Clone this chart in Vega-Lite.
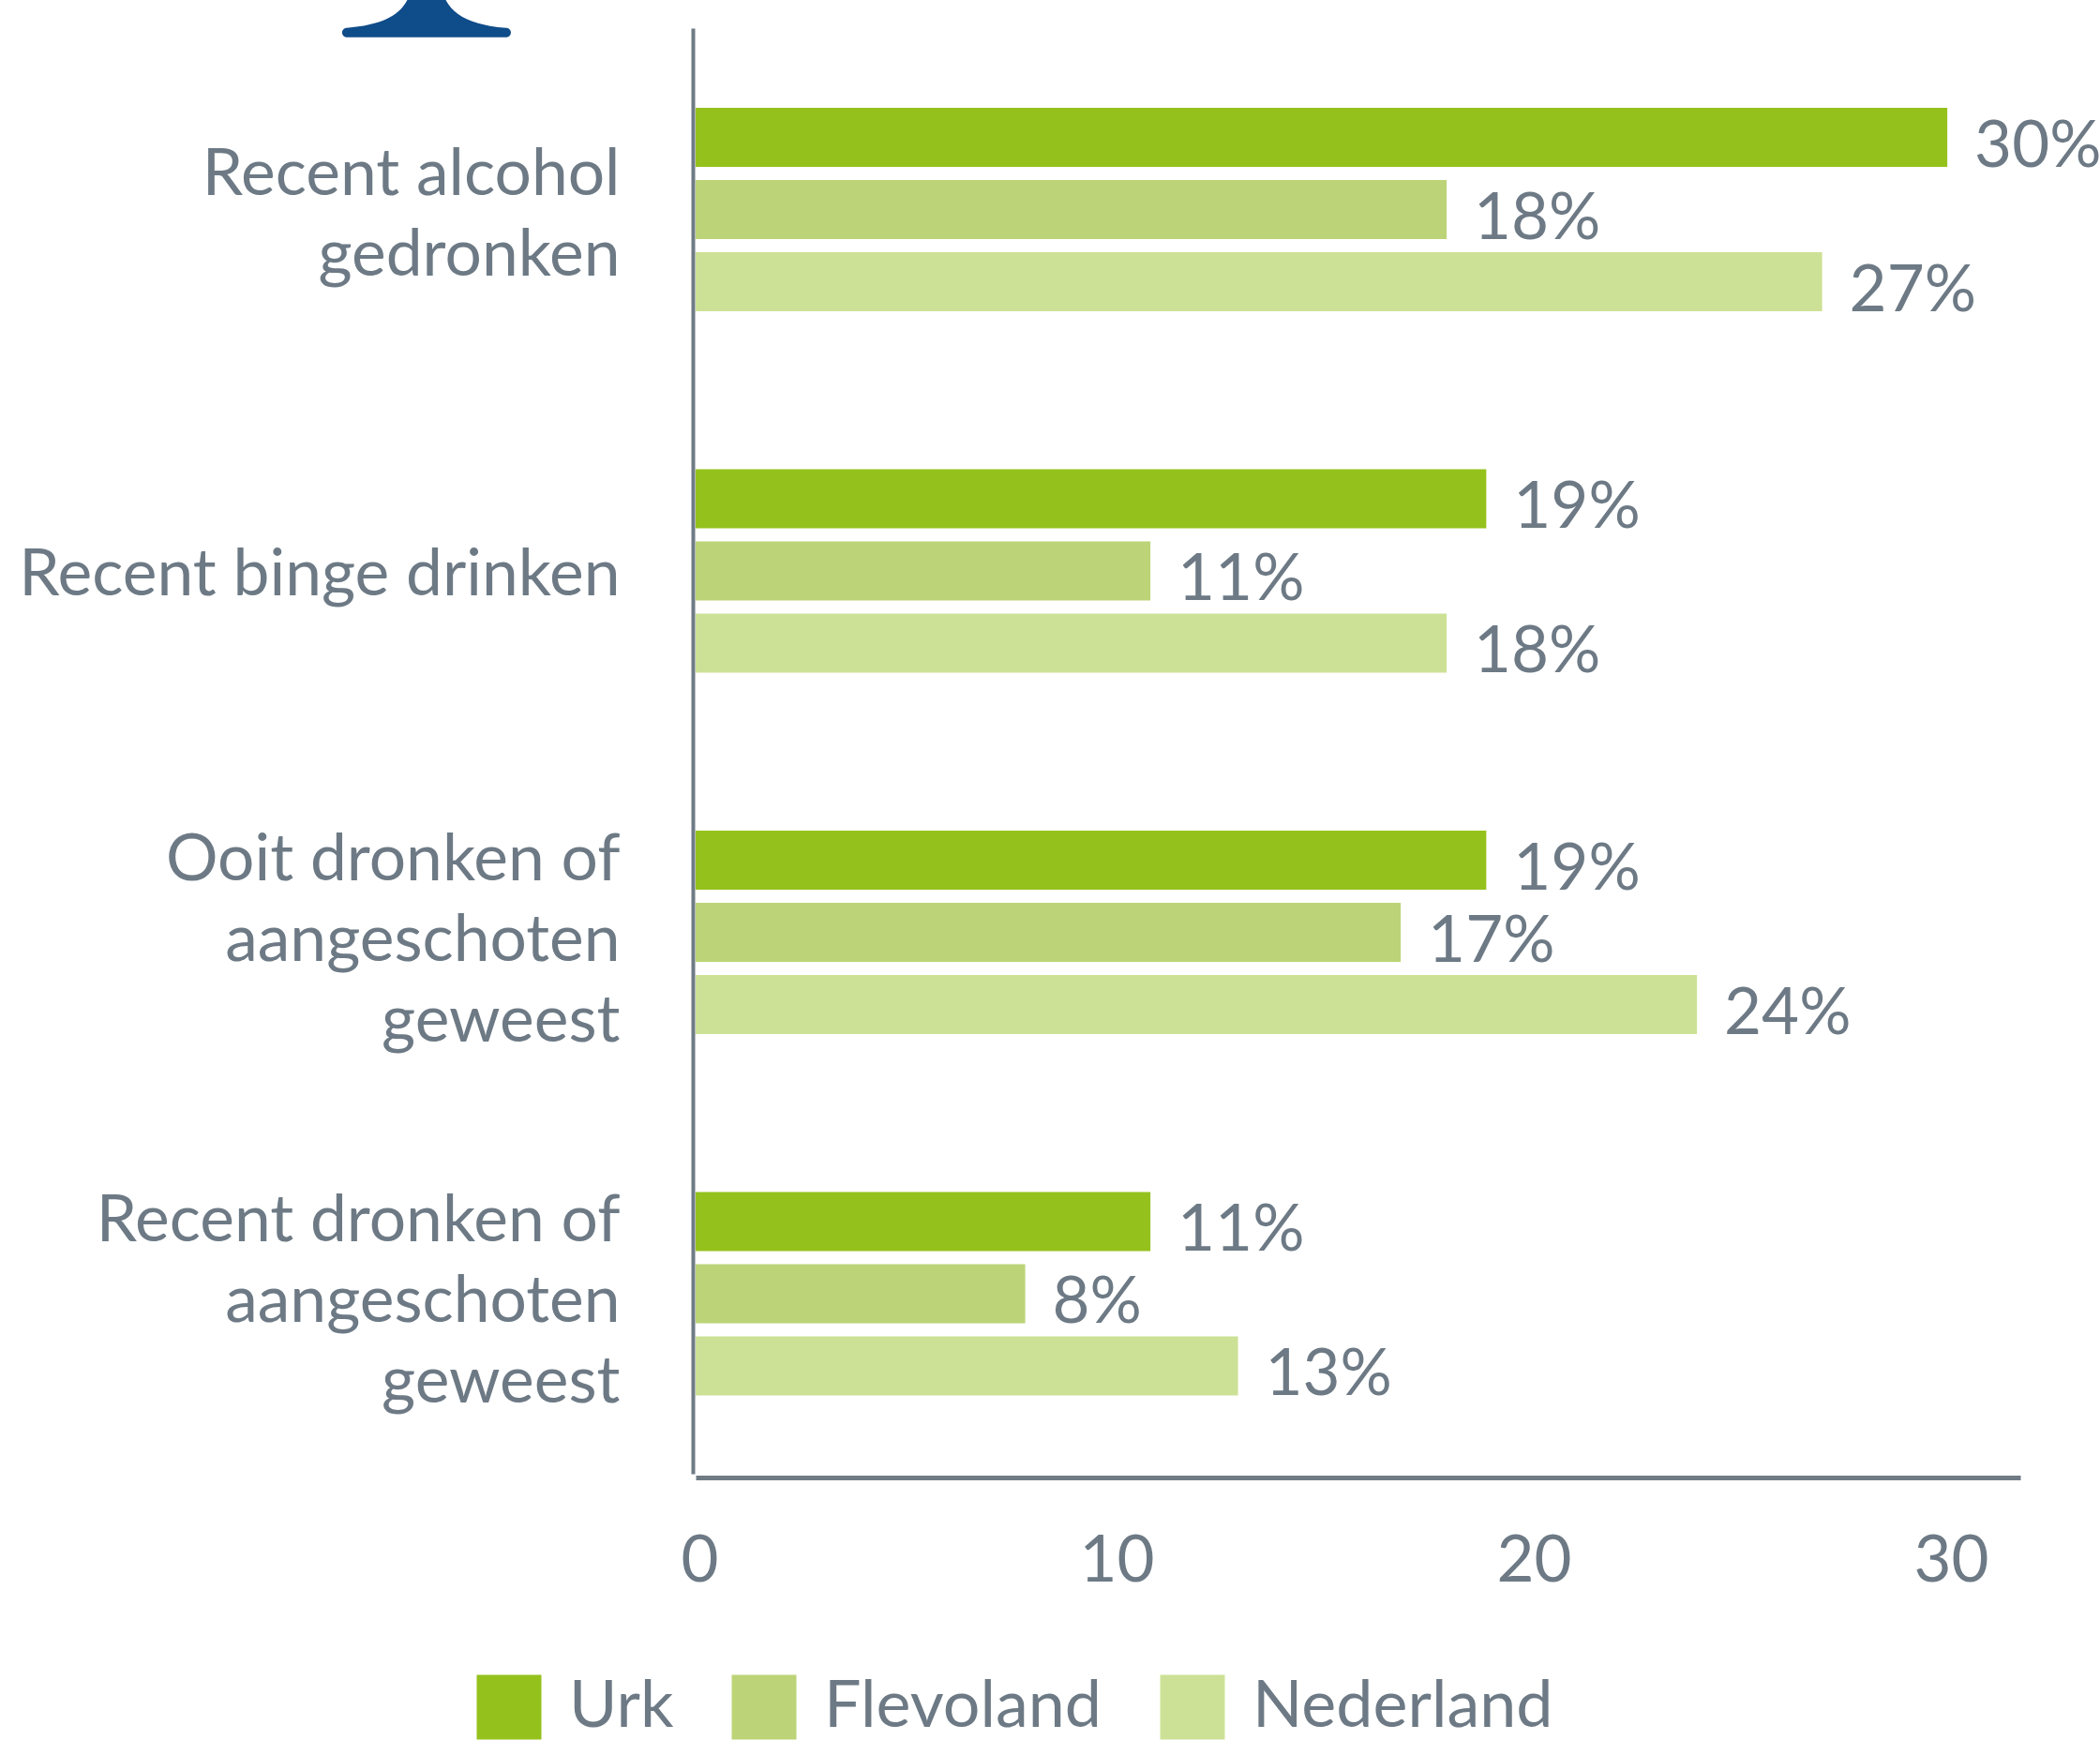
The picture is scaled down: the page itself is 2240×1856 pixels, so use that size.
{
"$schema":"https://vega.github.io/schema/vega-lite/v6.json",
"autosize":{"type":"none"},
"padding":{"left":742,"top":30,"right":85,"bottom":284},
"width":1413,"height":1542,
"background":"white",
"config":{"view":{"stroke":null},"font":"Lato"},
"layer":[
{"data":{"name":"rijen","values":[
{"categorie":"Recent alcohol gedronken","regio":"Urk","waarde":30,"label":"30%"},
{"categorie":"Recent alcohol gedronken","regio":"Flevoland","waarde":18,"label":"18%"},
{"categorie":"Recent alcohol gedronken","regio":"Nederland","waarde":27,"label":"27%"},
{"categorie":"Recent binge drinken","regio":"Urk","waarde":18.95,"label":"19%"},
{"categorie":"Recent binge drinken","regio":"Flevoland","waarde":10.9,"label":"11%"},
{"categorie":"Recent binge drinken","regio":"Nederland","waarde":18,"label":"18%"},
{"categorie":"Ooit dronken of aangeschoten geweest","regio":"Urk","waarde":18.95,"label":"19%"},
{"categorie":"Ooit dronken of aangeschoten geweest","regio":"Flevoland","waarde":16.9,"label":"17%"},
{"categorie":"Ooit dronken of aangeschoten geweest","regio":"Nederland","waarde":24,"label":"24%"},
{"categorie":"Recent dronken of aangeschoten geweest","regio":"Urk","waarde":10.9,"label":"11%"},
{"categorie":"Recent dronken of aangeschoten geweest","regio":"Flevoland","waarde":7.9,"label":"8%"},
{"categorie":"Recent dronken of aangeschoten geweest","regio":"Nederland","waarde":13,"label":"13%"}
]},
"mark":{"type":"bar","clip":false},
"encoding":{
"y":{"field":"categorie","type":"nominal","sort":null,
"scale":{"domain":["Recent alcohol gedronken","Recent binge drinken","Ooit dronken of aangeschoten geweest","Recent dronken of aangeschoten geweest"],"paddingInner":0,"paddingOuter":0},
"axis":{"title":null,"ticks":false,"domain":true,"domainColor":"#6f7b85","domainWidth":4,"offset":3,"labelPadding":78,"labelFontSize":69.5,"labelColor":"#6d7a85","labelFont":"Lato","labelLimit":700,"labelLineHeight":86,"labelBaseline":"middle",
"labelOffset":{"expr":"datum.value=='Recent binge drinken'?6:datum.value=='Recent alcohol gedronken'?-36:-76"},
"labelExpr":"datum.label=='Recent alcohol gedronken'?['Recent alcohol','gedronken']:datum.label=='Recent binge drinken'?['Recent binge drinken']:datum.label=='Ooit dronken of aangeschoten geweest'?['Ooit dronken of','aangeschoten','geweest']:['Recent dronken of','aangeschoten','geweest']"}},
"x":{"field":"waarde","type":"quantitative",
"scale":{"domain":[0,31.75],"nice":false,"zero":true},
"axis":{"title":null,"values":[0,10,20,30],"grid":false,"ticks":false,"domain":true,"domainColor":"#6f7b85","domainWidth":5,"offset":4,"labelPadding":55,"labelFontSize":69,"labelColor":"#6d7a85","labelFont":"Lato","labelOffset":4,"labelFlush":false,"labelBound":false,"labelOverlap":false}},
"yOffset":{"field":"regio","type":"nominal","sort":["Urk","Flevoland","Nederland"],"scale":{"domain":["Urk","Flevoland","Nederland"],"range":[78,309],"paddingInner":0.18,"paddingOuter":0.09}},
"color":{"field":"regio","type":"nominal",
"scale":{"domain":["Urk","Flevoland","Nederland"],"range":["#95c11c","#bcd477","#cde196"]},
"legend":{"title":null,"orient":"none","legendX":-234,"legendY":1756,"direction":"horizontal","columns":3,"symbolType":"square","symbolSize":4761,"symbolStrokeWidth":0,"symbolOpacity":1,"labelFontSize":70,"labelColor":"#6d7a85","labelFont":"Lato","labelOffset":29,"columnPadding":61,"labelLimit":500,"rowPadding":0}}}},
{"data":{"name":"rijen"},
"mark":{"type":"text","align":"left","baseline":"middle","dx":29,"dy":10,"fontSize":69,"font":"Lato","color":"#6d7a85"},
"encoding":{
"y":{"field":"categorie","type":"nominal","sort":null},
"x":{"field":"waarde","type":"quantitative"},
"yOffset":{"field":"regio","type":"nominal","sort":["Urk","Flevoland","Nederland"]},
"text":{"field":"label","type":"nominal"}}},
{"data":{"values":[{"categorie":"Recent alcohol gedronken","positie":-6.45}]},
"mark":{"type":"point","filled":true,"opacity":1,"size":4,"color":"#0f4c8a","clip":false,
"shape":"M-85,-193 C-40,-197 -20,-210 -15,-240 L15,-240 C20,-210 40,-197 85,-193 A5,5 0 0 1 85,-183 L-85,-183 A5,5 0 0 1 -85,-193 Z"},
"encoding":{"x":{"field":"positie","type":"quantitative"},"y":{"field":"categorie","type":"nominal","sort":null}}}
]
}
